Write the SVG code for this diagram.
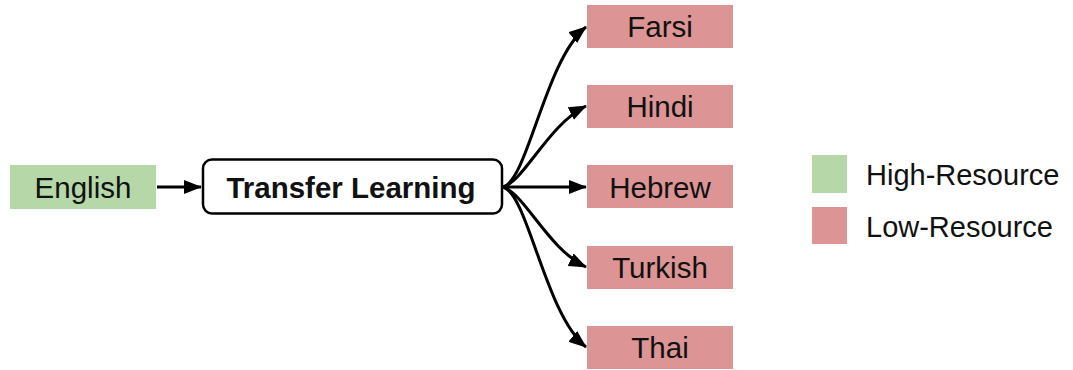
<svg xmlns="http://www.w3.org/2000/svg" width="1073" height="370" viewBox="0 0 1073 370">
  <style>
    .lbl { font-family: "Liberation Sans", Arial, sans-serif; font-size: 29.5px; fill: #111; text-anchor: middle; }
    .leg { font-family: "Liberation Sans", Arial, sans-serif; font-size: 29px; fill: #111; }
    .high { fill: #b6d7a8; }
    .low { fill: #dc9494; }
    .edge { fill: none; stroke: #000; stroke-width: 3; }
  </style>
  <defs>
    <marker id="arrow" viewBox="0 0 18 14" refX="17" refY="7" markerWidth="18" markerHeight="14" markerUnits="userSpaceOnUse" orient="auto">
      <path d="M0,0 L18,7 L0,14 z" fill="#000"/>
    </marker>
  </defs>
  <rect width="1073" height="370" fill="#fff"/>

  <g id="connectors">
    <path class="edge" d="M157,187 L201,187" marker-end="url(#arrow)"/>
    <path class="edge" d="M503,187 C528,180 545,60 586,27" marker-end="url(#arrow)"/>
    <path class="edge" d="M503,187 C525,180 548,125 586,106" marker-end="url(#arrow)"/>
    <path class="edge" d="M503,187 L586,187" marker-end="url(#arrow)"/>
    <path class="edge" d="M503,187 C525,194 548,249 586,267" marker-end="url(#arrow)"/>
    <path class="edge" d="M503,187 C528,194 545,314 586,347" marker-end="url(#arrow)"/>
  </g>

  <g id="english">
    <rect class="high" x="10" y="165" width="146" height="44"/>
    <text class="lbl" x="83" y="197.5">English</text>
  </g>

  <g id="transfer-learning">
    <rect x="203" y="159.5" width="299" height="54" rx="9" fill="#fff" stroke="#000" stroke-width="2.5"/>
    <text class="lbl" x="351" y="197.5" font-weight="bold">Transfer Learning</text>
  </g>

  <g id="farsi">
    <rect class="low" x="587" y="5" width="146" height="43"/>
    <text class="lbl" x="660" y="37">Farsi</text>
  </g>
  <g id="hindi">
    <rect class="low" x="587" y="85" width="146" height="43"/>
    <text class="lbl" x="660" y="117">Hindi</text>
  </g>
  <g id="hebrew">
    <rect class="low" x="587" y="165" width="146" height="43"/>
    <text class="lbl" x="660" y="197.5">Hebrew</text>
  </g>
  <g id="turkish">
    <rect class="low" x="587" y="246" width="146" height="43"/>
    <text class="lbl" x="660" y="278">Turkish</text>
  </g>
  <g id="thai">
    <rect class="low" x="587" y="326" width="146" height="43"/>
    <text class="lbl" x="660" y="358">Thai</text>
  </g>

  <g id="legend">
    <rect class="high" x="812" y="155" width="35" height="38"/>
    <text class="leg" x="866" y="185">High-Resource</text>
    <rect class="low" x="812" y="207" width="35" height="37"/>
    <text class="leg" x="866" y="237">Low-Resource</text>
  </g>
</svg>
